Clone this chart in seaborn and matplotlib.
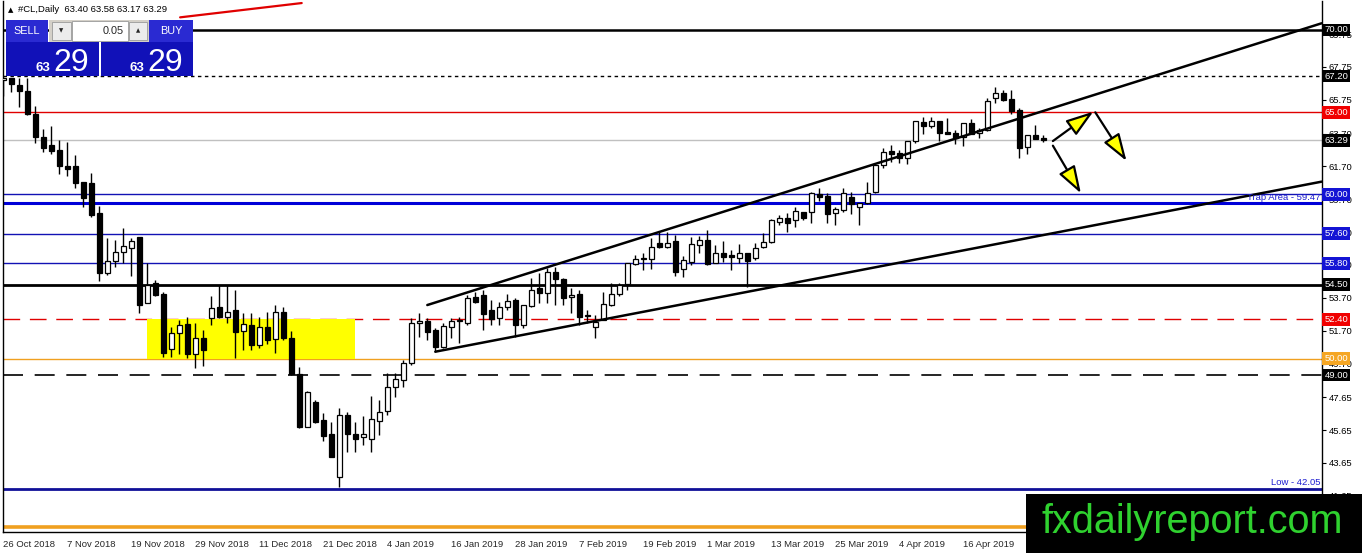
import numpy as np
import matplotlib
matplotlib.use("Agg")
import matplotlib.pyplot as plt
import matplotlib.transforms as mtransforms
from matplotlib.patches import Rectangle
import seaborn as sns

# daily OHLC, one entry per bar (26 Oct 2018 .. end of Apr 2019)
opens = [66.95, 67.08, 66.65, 66.30, 64.87, 63.50, 63.00, 62.70, 61.72, 61.70,
         60.75, 60.67, 58.84, 55.19, 55.96, 56.51, 56.75, 57.38, 53.37, 54.58,
         53.93, 50.57, 51.54, 52.11, 50.28, 51.23, 52.45, 53.16, 52.55, 52.96,
         51.70, 52.05, 50.83, 51.94, 51.17, 52.82, 51.23, 49.06, 45.86, 47.38,
         46.26, 45.41, 42.81, 46.57, 45.41, 45.21, 45.09, 46.22, 46.83, 48.25,
         48.70, 49.71, 52.15, 52.31, 51.74, 50.72, 51.94, 52.29, 52.15, 53.77,
         53.87, 52.96, 52.45, 53.12, 53.57, 52.05, 53.20, 54.28, 53.97, 55.29,
         54.83, 53.73, 53.93, 52.60, 51.90, 52.35, 53.26, 53.93, 54.54, 55.76,
         56.04, 56.04, 57.05, 56.81, 57.15, 55.44, 55.90, 56.91, 57.22, 55.80,
         56.41, 56.30, 56.10, 56.41, 56.10, 56.81, 57.11, 58.33, 58.54, 58.44,
         58.94, 58.94, 60.02, 59.90, 58.84, 59.04, 59.85, 59.25, 59.45, 60.16,
         61.78, 62.64, 62.50, 62.19, 63.24, 64.38, 64.18, 64.46, 63.77, 63.71,
         63.51, 64.32, 63.71, 63.91, 65.84, 66.15, 65.80, 65.13, 62.90, 63.61,
         63.40]
highs = [67.15, 67.10, 67.10, 67.10, 65.40, 64.00, 64.15, 63.30, 63.20, 62.40,
         60.75, 61.30, 59.30, 57.32, 57.22, 57.93, 57.32, 57.40, 55.80, 54.80,
         54.07, 51.94, 52.35, 52.51, 52.15, 51.74, 53.81, 54.48, 54.48, 54.18,
         52.76, 52.76, 52.55, 52.85, 53.26, 53.16, 51.67, 49.51, 48.00, 47.48,
         46.71, 46.16, 46.97, 46.77, 46.16, 46.51, 47.72, 47.48, 49.14, 49.14,
         49.90, 52.50, 52.76, 52.45, 51.85, 52.15, 52.45, 52.55, 53.87, 54.07,
         54.18, 53.57, 53.46, 53.93, 53.67, 53.26, 54.89, 55.19, 55.50, 55.60,
         54.89, 54.28, 54.18, 52.96, 52.65, 54.07, 54.62, 54.62, 55.80, 56.31,
         56.40, 57.32, 57.72, 57.72, 57.50, 56.25, 57.38, 57.46, 57.83, 56.91,
         57.17, 56.61, 56.97, 56.41, 57.02, 57.62, 58.48, 58.74, 58.88, 59.25,
         58.94, 60.16, 60.37, 60.06, 59.25, 60.37, 60.16, 59.45, 60.73, 61.78,
         62.80, 63.00, 62.70, 63.24, 64.46, 64.72, 64.72, 64.46, 64.66, 63.90,
         64.32, 64.58, 64.02, 65.88, 66.55, 66.35, 66.35, 65.23, 63.61, 64.22,
         63.58]
lows = [66.00, 66.20, 65.30, 64.80, 63.10, 62.60, 62.45, 61.25, 61.10, 60.40,
        59.25, 58.64, 54.74, 55.10, 55.56, 55.80, 55.03, 52.76, 53.37, 53.80,
        50.12, 50.12, 50.28, 50.02, 49.41, 49.55, 52.04, 52.47, 52.15, 50.02,
        50.52, 50.52, 50.63, 50.89, 50.32, 51.13, 49.00, 45.76, 45.86, 46.06,
        45.00, 44.00, 42.20, 44.33, 44.33, 44.74, 44.33, 45.35, 46.57, 47.68,
        48.25, 49.60, 51.33, 51.13, 50.42, 50.63, 51.23, 50.93, 52.05, 53.37,
        51.74, 52.05, 52.05, 52.96, 51.33, 51.85, 53.16, 53.37, 53.37, 53.26,
        53.26, 52.79, 52.05, 52.15, 51.23, 52.35, 53.20, 53.81, 54.18, 55.70,
        55.40, 55.44, 56.71, 56.71, 55.00, 54.99, 55.70, 56.41, 55.70, 55.80,
        55.90, 55.40, 55.84, 54.38, 56.00, 56.71, 57.02, 58.13, 57.72, 58.03,
        58.44, 58.27, 59.61, 58.23, 58.13, 58.94, 58.80, 58.13, 59.41, 60.10,
        61.58, 61.95, 61.89, 61.83, 63.10, 63.65, 64.02, 63.24, 63.65, 63.04,
        62.96, 63.65, 63.41, 63.85, 65.54, 65.68, 64.87, 62.23, 62.43, 63.37,
        63.17]
closes = [67.05, 66.70, 66.30, 64.87, 63.50, 62.80, 62.65, 61.70, 61.56, 60.70,
          59.80, 58.74, 55.23, 55.94, 56.47, 56.85, 57.16, 53.26, 54.48, 53.87,
          50.32, 51.58, 52.05, 50.28, 51.23, 50.52, 53.06, 52.55, 52.85, 51.64,
          52.11, 50.83, 51.90, 51.13, 52.82, 51.23, 49.06, 45.86, 47.95, 46.16,
          45.29, 44.03, 46.57, 45.41, 45.09, 45.41, 46.31, 46.77, 48.25, 48.74,
          49.75, 52.15, 52.31, 51.64, 50.72, 51.98, 52.29, 52.32, 53.67, 53.46,
          52.71, 52.39, 53.12, 53.51, 52.05, 53.26, 54.18, 53.97, 55.29, 54.83,
          53.67, 53.87, 52.55, 52.65, 52.25, 53.30, 53.93, 54.48, 55.80, 56.04,
          56.04, 56.81, 56.81, 57.05, 55.30, 56.00, 56.97, 57.22, 55.76, 56.41,
          56.20, 56.16, 56.41, 55.96, 56.71, 57.11, 58.44, 58.54, 58.27, 59.00,
          58.54, 60.06, 59.82, 58.80, 59.09, 60.06, 59.41, 59.45, 60.10, 61.78,
          62.56, 62.43, 62.19, 63.24, 64.46, 64.18, 64.46, 63.71, 63.65, 63.40,
          64.32, 63.65, 63.91, 65.68, 66.15, 65.74, 65.07, 62.80, 63.61, 63.37,
          63.29]

date_labels = ["26 Oct 2018", "7 Nov 2018", "19 Nov 2018", "29 Nov 2018",
               "11 Dec 2018", "21 Dec 2018", "4 Jan 2019", "16 Jan 2019",
               "28 Jan 2019", "7 Feb 2019", "19 Feb 2019", "1 Mar 2019",
               "13 Mar 2019", "25 Mar 2019", "4 Apr 2019", "16 Apr 2019"]
price_ticks = [69.75, 67.75, 65.75, 63.70, 61.70, 59.70, 57.70, 55.70,
               53.70, 51.70, 49.70, 47.65, 45.65, 43.65, 41.65]

# horizontal levels
levels = [70.00, 67.20, 65.00, 63.29, 60.00, 59.47, 57.60, 55.80,
          54.50, 52.40, 50.00, 49.00, 42.05, 39.77]
level_tags = ["70.00", "67.20", "65.00", "63.29", "60.00", None, "57.60",
              "55.80", "54.50", "52.40", "50.00", "49.00", None, None]

# trend lines (bar index, price)
upper_channel = ([53.0, 164.8], [53.26, 70.41])
lower_channel = ([54.0, 164.8], [50.42, 60.77])
red_trend = ([22.1, 37.3], [70.77, 71.64])
arrows = [((131.2, 62.96), (134.7, 60.06)),
          ((131.2, 63.24), (136.25, 65.03)),
          ((136.5, 64.99), (140.4, 62.03))]
zone = (18.0, 44.0, 50.00, 52.40)

sns.set_style("white")
plt.rcParams["font.family"] = ["Liberation Sans", "DejaVu Sans"]

W, H = 1362, 553
fig = plt.figure(figsize=(W / 100, H / 100), dpi=100)
fig.patch.set_facecolor("white")
ax = fig.add_axes([3 / W, 21 / H, 1319 / W, 531 / H])
ax.set_facecolor("white")

BLUE = "#1212b4"
level_style = [
    dict(color="black", lw=1.8),
    dict(color="black", lw=1.0, ls=(0, (2.5, 2.5))),
    dict(color="#e00000", lw=1.0),
    dict(color="#c0c0c0", lw=1.0),
    dict(color=BLUE, lw=1.0),
    dict(color="#0000d8", lw=2.2),
    dict(color=BLUE, lw=1.0),
    dict(color=BLUE, lw=1.0),
    dict(color="black", lw=2.0),
    dict(color="#e00000", lw=1.0, ls=(0, (12, 7))),
    dict(color="#f0a020", lw=1.0),
    dict(color="black", lw=1.2, ls=(0, (12, 7))),
    dict(color="#101098", lw=2.0),
    dict(color="#f0a020", lw=2.6),
]
tag_colors = ["black", "black", "#f00000", "black", "#1414d4", None, "#1414d4",
              "#1414d4", "black", "#f00000", "#f5a623", "black", None, None]

for lv, st in zip(levels, level_style):
    ax.axhline(lv, zorder=1, **st)

# yellow zone
ax.add_patch(Rectangle((zone[0], zone[2]), zone[1] - zone[0], zone[3] - zone[2],
                       facecolor="#ffff00", edgecolor="none", zorder=1.5))

# candles
idx = np.arange(len(opens))
o = np.array(opens); c = np.array(closes)
ax.vlines(idx, lows, highs, color="black", lw=1.0, zorder=3)
bottoms = np.minimum(o, c)
heights = np.maximum(np.abs(c - o), 0.06)
fills = np.where(c >= o, "white", "black")
ax.bar(idx, heights, bottom=bottoms, width=0.6, color=fills,
       edgecolor="black", linewidth=0.9, zorder=4)

# trend lines
sns.lineplot(x=upper_channel[0], y=upper_channel[1], ax=ax, color="black",
             lw=1.8, zorder=5)
sns.lineplot(x=lower_channel[0], y=lower_channel[1], ax=ax, color="black",
             lw=1.8, zorder=5)
sns.lineplot(x=red_trend[0], y=red_trend[1], ax=ax, color="#e00000",
             lw=1.6, zorder=5, clip_on=False)

for (x0, y0), (x1, y1) in arrows:
    ax.annotate("", xy=(x1, y1), xytext=(x0, y0),
                arrowprops=dict(arrowstyle="-|>,head_length=1.2,head_width=0.4",
                                mutation_scale=14, fc="#ffff00", ec="black",
                                lw=1.6, shrinkA=0, shrinkB=0), zorder=6)

ax.set_xlim(-0.04, 164.84)
ax.set_ylim(39.446, 71.765)

# axes, ticks
ax.spines["top"].set_visible(False)
for s in ["left", "right", "bottom"]:
    ax.spines[s].set_color("black")
    ax.spines[s].set_linewidth(1.0)
ax.yaxis.tick_right()
ax.set_yticks(price_ticks)
ax.set_yticklabels([f"{t:.2f}" for t in price_ticks])
ax.tick_params(axis="y", direction="out", length=3, width=0.8, pad=2,
               labelsize=6.8, colors="black")
ax.set_xticks(np.arange(len(date_labels)) * 8)
ax.set_xticklabels(date_labels)
ax.tick_params(axis="x", direction="out", length=4, width=0.8, pad=2,
               labelsize=6.8)
for lab in ax.get_xticklabels():
    lab.set_ha("left")
ax.grid(False)

# price tags on the right axis
trans = mtransforms.blended_transform_factory(ax.transAxes, ax.transData)
for lv, tag, col in zip(levels, level_tags, tag_colors):
    if tag is None:
        continue
    ax.text(1.0018, lv, tag, transform=trans, ha="left", va="center",
            fontsize=6.8, color="white", zorder=10, clip_on=False,
            bbox=dict(boxstyle="square,pad=0.2", fc=col, ec="none"))

ax.text(0.9985, 59.80, "Trap Area - 59.47", transform=trans, ha="right",
        va="center", fontsize=6.8, color="#1e1ed0", zorder=7)
ax.text(0.9985, 42.45, "Low - 42.05", transform=trans, ha="right",
        va="center", fontsize=6.8, color="#1e1ed0", zorder=7)

# overlay in pixel coordinates: trade panel, header, watermark
ov = fig.add_axes([0, 0, 1, 1], zorder=20)
ov.set_xlim(0, W)
ov.set_ylim(H, 0)
ov.axis("off")
ov.patch.set_alpha(0)

ov.text(8, 10, "\u25b2", fontsize=5, color="black", va="center", ha="left",
        family=["DejaVu Sans"])
ov.text(18, 10, "#CL,Daily  63.40 63.58 63.17 63.29", fontsize=6.8,
        color="black", va="center", ha="left")

btn = "#2a2ad2"
ov.add_patch(Rectangle((6, 20), 42, 22, fc=btn, ec="none"))
ov.text(27, 31, "SELL", color="white", fontsize=7.8, ha="center", va="center")
ov.add_patch(Rectangle((49, 20), 100, 22, fc="#d4d0c8", ec="none"))
ov.add_patch(Rectangle((52, 22), 19, 18, fc="#ececec", ec="#9a9a9a", lw=0.6))
ov.text(61.5, 31, "\u25bc", fontsize=4, ha="center", va="center",
        family=["DejaVu Sans"])
ov.add_patch(Rectangle((72, 21), 56, 20, fc="white", ec="#9a9a9a", lw=0.6))
ov.text(124, 31, "0.05", fontsize=7.8, ha="right", va="center")
ov.add_patch(Rectangle((129, 22), 18, 18, fc="#ececec", ec="#9a9a9a", lw=0.6))
ov.text(138, 31, "\u25b2", fontsize=4, ha="center", va="center",
        family=["DejaVu Sans"])
ov.add_patch(Rectangle((149, 20), 44, 22, fc=btn, ec="none"))
ov.text(171, 31, "BUY", color="white", fontsize=7.8, ha="center", va="center")

big = "#1111b8"
ov.add_patch(Rectangle((6, 42), 93, 34, fc=big, ec="none"))
ov.add_patch(Rectangle((101, 42), 92, 34, fc=big, ec="none"))
for x_small, x_big in [(36, 53), (130, 147)]:
    ov.text(x_small, 71, "63", color="white", fontsize=9.5, fontweight="bold",
            ha="left", va="baseline")
    ov.text(x_big, 71, "29", color="white", fontsize=23, ha="left",
            va="baseline")

ov.add_patch(Rectangle((1026, 494), 336, 59, fc="black", ec="none"))
ov.text(1041, 533, "fxdailyreport.com", color="#2fd12f", fontsize=28.5,
        ha="left", va="baseline")

fig.savefig("out.png", dpi=100, facecolor="white")
